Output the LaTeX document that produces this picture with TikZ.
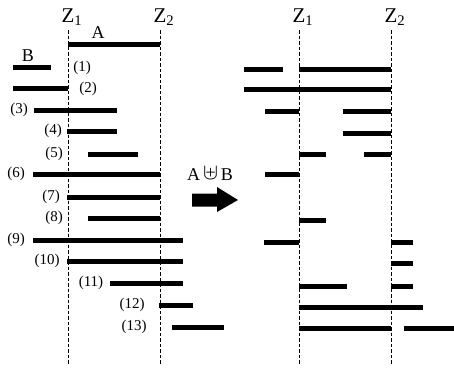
\documentclass[tikz,border=0pt]{standalone}
\usepackage{fontspec}
\setmainfont{Liberation Serif}
\begin{document}
\begin{tikzpicture}[x=1pt,y=-1pt,
  bar/.style={line width=5pt},
  zline/.style={line width=1pt,dash pattern=on 3.5pt off 2pt},
  num/.style={font=\fontsize{15}{16}\selectfont,inner sep=0pt},
  zlab/.style={font=\fontsize{21}{22}\selectfont,inner sep=0pt},
  big/.style={font=\fontsize{18}{19}\selectfont,inner sep=0pt}]
\useasboundingbox (0,0) rectangle (454,368);
% dashed lines
\foreach \x/\n in {68/LZ1,160/LZ2,299/RZ1,391/RZ2}{
  \coordinate (\n t) at (\x,30);
  \coordinate (\n b) at (\x,364);
  \draw[zline] (\n t) -- (\n b);
}
\node[zlab] (lz1) at (72,17) {Z\textsubscript{1}};
\node[zlab] (lz2) at (164,17) {Z\textsubscript{2}};
\node[zlab] (rz1) at (303,17) {Z\textsubscript{1}};
\node[zlab] (rz2) at (395,17) {Z\textsubscript{2}};
% left panel
\node[big] (la) at (98,33) {A};
\draw[bar] (68,44) -- (160,44);
\node[big] (lb) at (28,56) {B};
\draw[bar] (13,67) -- (51,67);
\node[num] at (82,68) {(1)};
\draw[bar] (13,88) -- (68,88);
\node[num] at (88,89) {(2)};
\draw[bar] (34,110) -- (117,110);
\node[num] at (19,110) {(3)};
\draw[bar] (67,131) -- (117,131);
\node[num] at (53,131) {(4)};
\draw[bar] (88,154) -- (138,154);
\node[num] at (54,154) {(5)};
\draw[bar] (33,174) -- (160,174);
\node[num] at (16,174) {(6)};
\draw[bar] (67,197) -- (160,197);
\node[num] at (51,197) {(7)};
\draw[bar] (88,218) -- (160,218);
\node[num] at (54,218) {(8)};
\draw[bar] (33,240) -- (183,240);
\node[num] at (16,240) {(9)};
\draw[bar] (67,261) -- (183,261);
\node[num] at (47,261) {(10)};
\draw[bar] (110,283) -- (183,283);
\node[num] at (91,283) {(11)};
\draw[bar] (159,305) -- (193,305);
\node[num] at (132,305) {(12)};
\draw[bar] (172,327) -- (224,327);
\node[num] at (134,327) {(13)};
% operator and arrow
\node[big] (op) at (210,174) {A\,\raisebox{0.5pt}{\scalebox{1.3}{$\uplus$}}\,B};
\fill (192,193.5) -- (217,193.5) -- (217,187) -- (238,200) -- (217,212) -- (217,206.5) -- (192,206.5) -- cycle;
% right panel
\draw[bar] (244,69) -- (283,69);
\draw[bar] (299,69) -- (391,69);
\draw[bar] (244,89) -- (391,89);
\draw[bar] (265,111) -- (299,111);
\draw[bar] (343,111) -- (391,111);
\draw[bar] (343,133) -- (391,133);
\draw[bar] (299,154) -- (326,154);
\draw[bar] (364,154) -- (391,154);
\draw[bar] (265,174) -- (299,174);
\draw[bar] (299,220) -- (326,220);
\draw[bar] (264,242) -- (299,242);
\draw[bar] (391,242) -- (413,242);
\draw[bar] (391,263) -- (413,263);
\draw[bar] (299,286) -- (347,286);
\draw[bar] (391,286) -- (413,286);
\draw[bar] (299,307) -- (423,307);
\draw[bar] (299,328) -- (391,328);
\draw[bar] (404,328) -- (454,328);
\end{tikzpicture}
\end{document}
